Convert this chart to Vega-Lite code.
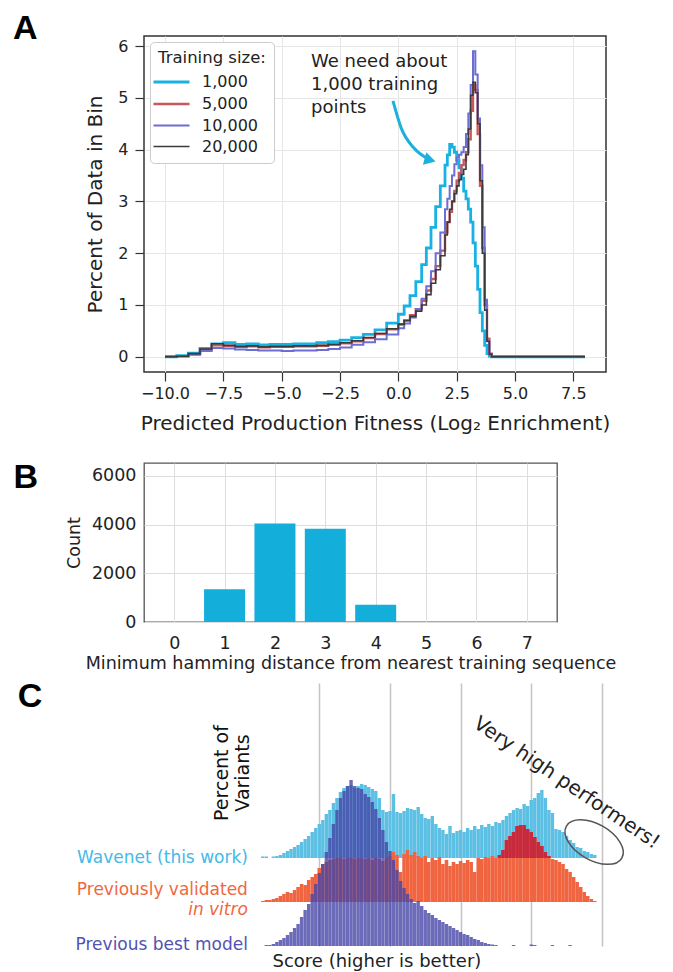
{
  "$schema": "https://vega.github.io/schema/vega-lite/v6.json",
  "padding": {"left": 12, "top": 11, "right": 4, "bottom": 2},
  "config": {
    "font": "DejaVu Sans",
    "axis": {"labelFont": "DejaVu Sans", "titleFont": "DejaVu Sans", "labelColor": "#222222", "titleColor": "#222222", "titleFontWeight": "normal"},
    "legend": {"labelFont": "DejaVu Sans", "titleFont": "DejaVu Sans"}
  },
  "datasets": {
    "curves": [
      {"x":-10,"pct":0,"size":"1,000"},{"x":-9.5,"pct":0.02,"size":"1,000"},{"x":-9,"pct":0.07,"size":"1,000"},{"x":-8.5,"pct":0.16,"size":"1,000"},{"x":-8,"pct":0.25,"size":"1,000"},{"x":-7.5,"pct":0.27,"size":"1,000"},{"x":-7,"pct":0.24,"size":"1,000"},{"x":-6.5,"pct":0.25,"size":"1,000"},{"x":-6,"pct":0.23,"size":"1,000"},{"x":-5.5,"pct":0.24,"size":"1,000"},{"x":-5,"pct":0.24,"size":"1,000"},{"x":-4.5,"pct":0.25,"size":"1,000"},{"x":-4,"pct":0.25,"size":"1,000"},{"x":-3.5,"pct":0.27,"size":"1,000"},{"x":-3,"pct":0.29,"size":"1,000"},{"x":-2.5,"pct":0.32,"size":"1,000"},{"x":-2,"pct":0.37,"size":"1,000"},{"x":-1.5,"pct":0.43,"size":"1,000"},{"x":-1,"pct":0.52,"size":"1,000"},{"x":-0.5,"pct":0.65,"size":"1,000"},{"x":0,"pct":0.82,"size":"1,000"},{"x":0.25,"pct":0.98,"size":"1,000"},{"x":0.5,"pct":1.18,"size":"1,000"},{"x":0.75,"pct":1.45,"size":"1,000"},{"x":1,"pct":1.78,"size":"1,000"},{"x":1.2,"pct":2.1,"size":"1,000"},{"x":1.4,"pct":2.5,"size":"1,000"},{"x":1.6,"pct":2.9,"size":"1,000"},{"x":1.8,"pct":3.3,"size":"1,000"},{"x":2,"pct":3.7,"size":"1,000"},{"x":2.1,"pct":3.9,"size":"1,000"},{"x":2.2,"pct":4.1,"size":"1,000"},{"x":2.3,"pct":4.05,"size":"1,000"},{"x":2.4,"pct":3.95,"size":"1,000"},{"x":2.5,"pct":3.8,"size":"1,000"},{"x":2.6,"pct":3.65,"size":"1,000"},{"x":2.7,"pct":3.45,"size":"1,000"},{"x":2.8,"pct":3.2,"size":"1,000"},{"x":2.9,"pct":3.05,"size":"1,000"},{"x":3,"pct":2.85,"size":"1,000"},{"x":3.1,"pct":2.6,"size":"1,000"},{"x":3.2,"pct":2.2,"size":"1,000"},{"x":3.3,"pct":1.75,"size":"1,000"},{"x":3.4,"pct":1.3,"size":"1,000"},{"x":3.5,"pct":0.85,"size":"1,000"},{"x":3.6,"pct":0.5,"size":"1,000"},{"x":3.7,"pct":0.22,"size":"1,000"},{"x":3.8,"pct":0.06,"size":"1,000"},{"x":3.9,"pct":0.01,"size":"1,000"},{"x":4,"pct":0,"size":"1,000"},{"x":8,"pct":0,"size":"1,000"},
      {"x":-10,"pct":0,"size":"5,000"},{"x":-9.5,"pct":0.01,"size":"5,000"},{"x":-9,"pct":0.05,"size":"5,000"},{"x":-8.5,"pct":0.14,"size":"5,000"},{"x":-8,"pct":0.22,"size":"5,000"},{"x":-7.5,"pct":0.21,"size":"5,000"},{"x":-7,"pct":0.19,"size":"5,000"},{"x":-6.5,"pct":0.2,"size":"5,000"},{"x":-6,"pct":0.18,"size":"5,000"},{"x":-5.5,"pct":0.19,"size":"5,000"},{"x":-5,"pct":0.19,"size":"5,000"},{"x":-4.5,"pct":0.2,"size":"5,000"},{"x":-4,"pct":0.2,"size":"5,000"},{"x":-3.5,"pct":0.21,"size":"5,000"},{"x":-3,"pct":0.23,"size":"5,000"},{"x":-2.5,"pct":0.26,"size":"5,000"},{"x":-2,"pct":0.3,"size":"5,000"},{"x":-1.5,"pct":0.36,"size":"5,000"},{"x":-1,"pct":0.44,"size":"5,000"},{"x":-0.5,"pct":0.53,"size":"5,000"},{"x":0,"pct":0.62,"size":"5,000"},{"x":0.25,"pct":0.7,"size":"5,000"},{"x":0.5,"pct":0.8,"size":"5,000"},{"x":0.75,"pct":0.92,"size":"5,000"},{"x":1,"pct":1.08,"size":"5,000"},{"x":1.2,"pct":1.28,"size":"5,000"},{"x":1.4,"pct":1.5,"size":"5,000"},{"x":1.6,"pct":1.75,"size":"5,000"},{"x":1.8,"pct":2.05,"size":"5,000"},{"x":2,"pct":2.4,"size":"5,000"},{"x":2.1,"pct":2.6,"size":"5,000"},{"x":2.2,"pct":2.8,"size":"5,000"},{"x":2.3,"pct":3.0,"size":"5,000"},{"x":2.4,"pct":3.2,"size":"5,000"},{"x":2.5,"pct":3.4,"size":"5,000"},{"x":2.6,"pct":3.55,"size":"5,000"},{"x":2.7,"pct":3.7,"size":"5,000"},{"x":2.8,"pct":3.8,"size":"5,000"},{"x":2.9,"pct":3.95,"size":"5,000"},{"x":3,"pct":4.2,"size":"5,000"},{"x":3.1,"pct":4.75,"size":"5,000"},{"x":3.2,"pct":5.25,"size":"5,000"},{"x":3.3,"pct":5.15,"size":"5,000"},{"x":3.4,"pct":4.3,"size":"5,000"},{"x":3.5,"pct":3.3,"size":"5,000"},{"x":3.6,"pct":2.1,"size":"5,000"},{"x":3.7,"pct":1.0,"size":"5,000"},{"x":3.8,"pct":0.35,"size":"5,000"},{"x":3.9,"pct":0.06,"size":"5,000"},{"x":4,"pct":0,"size":"5,000"},{"x":8,"pct":0,"size":"5,000"},
      {"x":-10,"pct":0,"size":"10,000"},{"x":-9.5,"pct":0.01,"size":"10,000"},{"x":-9,"pct":0.04,"size":"10,000"},{"x":-8.5,"pct":0.11,"size":"10,000"},{"x":-8,"pct":0.17,"size":"10,000"},{"x":-7.5,"pct":0.16,"size":"10,000"},{"x":-7,"pct":0.14,"size":"10,000"},{"x":-6.5,"pct":0.13,"size":"10,000"},{"x":-6,"pct":0.12,"size":"10,000"},{"x":-5.5,"pct":0.12,"size":"10,000"},{"x":-5,"pct":0.11,"size":"10,000"},{"x":-4.5,"pct":0.12,"size":"10,000"},{"x":-4,"pct":0.12,"size":"10,000"},{"x":-3.5,"pct":0.13,"size":"10,000"},{"x":-3,"pct":0.15,"size":"10,000"},{"x":-2.5,"pct":0.18,"size":"10,000"},{"x":-2,"pct":0.23,"size":"10,000"},{"x":-1.5,"pct":0.28,"size":"10,000"},{"x":-1,"pct":0.34,"size":"10,000"},{"x":-0.5,"pct":0.43,"size":"10,000"},{"x":0,"pct":0.55,"size":"10,000"},{"x":0.25,"pct":0.64,"size":"10,000"},{"x":0.5,"pct":0.76,"size":"10,000"},{"x":0.75,"pct":0.92,"size":"10,000"},{"x":1,"pct":1.12,"size":"10,000"},{"x":1.2,"pct":1.36,"size":"10,000"},{"x":1.4,"pct":1.65,"size":"10,000"},{"x":1.6,"pct":2.0,"size":"10,000"},{"x":1.8,"pct":2.4,"size":"10,000"},{"x":2,"pct":2.85,"size":"10,000"},{"x":2.1,"pct":3.05,"size":"10,000"},{"x":2.2,"pct":3.3,"size":"10,000"},{"x":2.3,"pct":3.5,"size":"10,000"},{"x":2.4,"pct":3.72,"size":"10,000"},{"x":2.5,"pct":3.85,"size":"10,000"},{"x":2.6,"pct":3.9,"size":"10,000"},{"x":2.7,"pct":3.95,"size":"10,000"},{"x":2.8,"pct":4.05,"size":"10,000"},{"x":2.9,"pct":4.3,"size":"10,000"},{"x":3,"pct":4.7,"size":"10,000"},{"x":3.1,"pct":5.25,"size":"10,000"},{"x":3.2,"pct":5.9,"size":"10,000"},{"x":3.3,"pct":5.45,"size":"10,000"},{"x":3.4,"pct":4.6,"size":"10,000"},{"x":3.5,"pct":3.7,"size":"10,000"},{"x":3.6,"pct":2.5,"size":"10,000"},{"x":3.7,"pct":1.1,"size":"10,000"},{"x":3.8,"pct":0.3,"size":"10,000"},{"x":3.9,"pct":0.05,"size":"10,000"},{"x":4,"pct":0,"size":"10,000"},{"x":8,"pct":0,"size":"10,000"},
      {"x":-10,"pct":0,"size":"20,000"},{"x":-9.5,"pct":0.01,"size":"20,000"},{"x":-9,"pct":0.06,"size":"20,000"},{"x":-8.5,"pct":0.15,"size":"20,000"},{"x":-8,"pct":0.25,"size":"20,000"},{"x":-7.5,"pct":0.22,"size":"20,000"},{"x":-7,"pct":0.2,"size":"20,000"},{"x":-6.5,"pct":0.21,"size":"20,000"},{"x":-6,"pct":0.19,"size":"20,000"},{"x":-5.5,"pct":0.2,"size":"20,000"},{"x":-5,"pct":0.2,"size":"20,000"},{"x":-4.5,"pct":0.21,"size":"20,000"},{"x":-4,"pct":0.21,"size":"20,000"},{"x":-3.5,"pct":0.22,"size":"20,000"},{"x":-3,"pct":0.24,"size":"20,000"},{"x":-2.5,"pct":0.27,"size":"20,000"},{"x":-2,"pct":0.31,"size":"20,000"},{"x":-1.5,"pct":0.37,"size":"20,000"},{"x":-1,"pct":0.45,"size":"20,000"},{"x":-0.5,"pct":0.54,"size":"20,000"},{"x":0,"pct":0.63,"size":"20,000"},{"x":0.25,"pct":0.7,"size":"20,000"},{"x":0.5,"pct":0.78,"size":"20,000"},{"x":0.75,"pct":0.88,"size":"20,000"},{"x":1,"pct":1.0,"size":"20,000"},{"x":1.2,"pct":1.2,"size":"20,000"},{"x":1.4,"pct":1.42,"size":"20,000"},{"x":1.6,"pct":1.68,"size":"20,000"},{"x":1.8,"pct":1.95,"size":"20,000"},{"x":2,"pct":2.35,"size":"20,000"},{"x":2.1,"pct":2.6,"size":"20,000"},{"x":2.2,"pct":2.85,"size":"20,000"},{"x":2.3,"pct":3.0,"size":"20,000"},{"x":2.4,"pct":3.15,"size":"20,000"},{"x":2.5,"pct":3.3,"size":"20,000"},{"x":2.6,"pct":3.42,"size":"20,000"},{"x":2.7,"pct":3.52,"size":"20,000"},{"x":2.8,"pct":3.62,"size":"20,000"},{"x":2.9,"pct":3.9,"size":"20,000"},{"x":3,"pct":4.4,"size":"20,000"},{"x":3.1,"pct":5.05,"size":"20,000"},{"x":3.2,"pct":5.3,"size":"20,000"},{"x":3.3,"pct":5.1,"size":"20,000"},{"x":3.4,"pct":4.5,"size":"20,000"},{"x":3.5,"pct":3.4,"size":"20,000"},{"x":3.6,"pct":2.0,"size":"20,000"},{"x":3.7,"pct":0.9,"size":"20,000"},{"x":3.8,"pct":0.3,"size":"20,000"},{"x":3.9,"pct":0.05,"size":"20,000"},{"x":4,"pct":0,"size":"20,000"},{"x":8,"pct":0,"size":"20,000"}
    ],
    "annA": [{"x": -3.74, "pct": 5.87, "label": "We need about\n1,000 training\npoints"}],
    "arrowA": [{"x": -0.23, "pct": 4.94}, {"x": 0.12, "pct": 4.42}, {"x": 0.67, "pct": 4.03}, {"x": 1.27, "pct": 3.82}],
    "arrowHeadA": [{"x": 1.36, "pct": 3.8}],
    "letterA": [{"x": -16.515, "pct": 6.33, "label": "A"}],
    "hamming": [
      {"d": 0, "count": 0}, {"d": 1, "count": 1350}, {"d": 2, "count": 4050}, {"d": 3, "count": 3830},
      {"d": 4, "count": 710}, {"d": 5, "count": 0}, {"d": 6, "count": 0}, {"d": 7, "count": 0}
    ],
    "letterB": [{"d": -3.19, "count": 5914, "label": "B"}],
    "wavenet": [
      {"s":-0.8,"pct":0.15},{"s":-0.75,"pct":0.15},{"s":-0.65,"pct":0.15},{"s":-0.6,"pct":0.2},{"s":-0.55,"pct":0.3},{"s":-0.5,"pct":0.5},{"s":-0.45,"pct":0.7},{"s":-0.4,"pct":0.9},{"s":-0.35,"pct":1.1},{"s":-0.3,"pct":1.3},{"s":-0.25,"pct":1.6},{"s":-0.2,"pct":1.9},{"s":-0.15,"pct":2.2},{"s":-0.1,"pct":2.6},{"s":-0.05,"pct":3.0},
      {"s":0,"pct":3.4},{"s":0.05,"pct":3.8},{"s":0.1,"pct":4.4},{"s":0.15,"pct":4.8},{"s":0.2,"pct":5.5},{"s":0.25,"pct":6.0},{"s":0.3,"pct":6.6},{"s":0.35,"pct":7.0},{"s":0.4,"pct":7.2},{"s":0.45,"pct":7.3},{"s":0.5,"pct":7.0},{"s":0.55,"pct":7.2},{"s":0.6,"pct":7.4},{"s":0.65,"pct":7.3},{"s":0.7,"pct":7.1},{"s":0.75,"pct":6.9},{"s":0.8,"pct":6.7},{"s":0.85,"pct":6.0},{"s":0.9,"pct":4.8},{"s":0.95,"pct":4.6},
      {"s":1,"pct":4.7},{"s":1.05,"pct":6.4},{"s":1.1,"pct":4.6},{"s":1.15,"pct":4.5},{"s":1.2,"pct":4.7},{"s":1.25,"pct":5.0},{"s":1.3,"pct":4.9},{"s":1.35,"pct":4.8},{"s":1.4,"pct":5.1},{"s":1.45,"pct":4.4},{"s":1.5,"pct":4.0},{"s":1.55,"pct":3.9},{"s":1.6,"pct":4.2},{"s":1.65,"pct":3.4},{"s":1.7,"pct":3.0},{"s":1.75,"pct":2.8},{"s":1.8,"pct":2.4},{"s":1.85,"pct":3.2},{"s":1.9,"pct":2.5},{"s":1.95,"pct":2.7},
      {"s":2,"pct":2.8},{"s":2.05,"pct":2.6},{"s":2.1,"pct":3.0},{"s":2.15,"pct":2.8},{"s":2.2,"pct":3.2},{"s":2.25,"pct":2.9},{"s":2.3,"pct":3.3},{"s":2.35,"pct":3.1},{"s":2.4,"pct":3.4},{"s":2.45,"pct":3.2},{"s":2.5,"pct":3.6},{"s":2.55,"pct":3.5},{"s":2.6,"pct":3.8},{"s":2.65,"pct":4.2},{"s":2.7,"pct":4.5},{"s":2.75,"pct":4.8},{"s":2.8,"pct":5.0},{"s":2.85,"pct":4.9},{"s":2.9,"pct":5.4},{"s":2.95,"pct":5.2},
      {"s":3,"pct":5.8},{"s":3.05,"pct":6.0},{"s":3.1,"pct":6.5},{"s":3.15,"pct":6.8},{"s":3.2,"pct":6.0},{"s":3.25,"pct":4.8},{"s":3.3,"pct":4.5},{"s":3.35,"pct":2.9},{"s":3.4,"pct":2.8},{"s":3.45,"pct":2.6},{"s":3.5,"pct":2.2},{"s":3.55,"pct":1.8},{"s":3.6,"pct":1.5},{"s":3.65,"pct":1.1},{"s":3.7,"pct":1.0},{"s":3.75,"pct":0.7},{"s":3.8,"pct":0.6},{"s":3.85,"pct":0.4},{"s":3.9,"pct":0.3}
    ],
    "validated": [
      {"s":-0.8,"pct":0.1},{"s":-0.75,"pct":0.2},{"s":-0.7,"pct":0.2},{"s":-0.65,"pct":0.3},{"s":-0.6,"pct":0.4},{"s":-0.55,"pct":0.6},{"s":-0.5,"pct":0.8},{"s":-0.45,"pct":1.0},{"s":-0.4,"pct":0.9},{"s":-0.35,"pct":1.2},{"s":-0.3,"pct":1.5},{"s":-0.25,"pct":1.8},{"s":-0.2,"pct":1.7},{"s":-0.15,"pct":2.2},{"s":-0.1,"pct":2.5},{"s":-0.05,"pct":2.8},
      {"s":0,"pct":3.4},{"s":0.05,"pct":3.8},{"s":0.1,"pct":4.0},{"s":0.15,"pct":4.2},{"s":0.2,"pct":4.3},{"s":0.25,"pct":4.4},{"s":0.3,"pct":4.4},{"s":0.35,"pct":4.3},{"s":0.4,"pct":4.4},{"s":0.45,"pct":4.4},{"s":0.5,"pct":4.3},{"s":0.55,"pct":4.4},{"s":0.6,"pct":4.4},{"s":0.65,"pct":4.3},{"s":0.7,"pct":4.4},{"s":0.75,"pct":4.2},{"s":0.8,"pct":4.4},{"s":0.85,"pct":4.3},{"s":0.9,"pct":4.1},{"s":0.95,"pct":4.4},
      {"s":1,"pct":4.6},{"s":1.05,"pct":5.0},{"s":1.1,"pct":4.7},{"s":1.15,"pct":3.0},{"s":1.2,"pct":4.8},{"s":1.25,"pct":5.2},{"s":1.3,"pct":4.7},{"s":1.35,"pct":5.0},{"s":1.4,"pct":4.6},{"s":1.45,"pct":4.4},{"s":1.5,"pct":4.6},{"s":1.55,"pct":4.0},{"s":1.6,"pct":4.4},{"s":1.65,"pct":4.2},{"s":1.7,"pct":4.5},{"s":1.75,"pct":3.8},{"s":1.8,"pct":4.2},{"s":1.85,"pct":3.6},{"s":1.9,"pct":4.0},{"s":1.95,"pct":3.8},
      {"s":2,"pct":4.1},{"s":2.05,"pct":3.9},{"s":2.1,"pct":4.2},{"s":2.15,"pct":4.0},{"s":2.2,"pct":3.0},{"s":2.25,"pct":4.4},{"s":2.3,"pct":4.3},{"s":2.35,"pct":4.5},{"s":2.4,"pct":4.4},{"s":2.45,"pct":4.6},{"s":2.5,"pct":4.4},{"s":2.55,"pct":4.7},{"s":2.6,"pct":5.2},{"s":2.65,"pct":6.2},{"s":2.7,"pct":6.6},{"s":2.75,"pct":7.0},{"s":2.8,"pct":7.6},{"s":2.85,"pct":7.7},{"s":2.9,"pct":7.7},{"s":2.95,"pct":7.3},
      {"s":3,"pct":7.0},{"s":3.05,"pct":6.5},{"s":3.1,"pct":6.0},{"s":3.15,"pct":5.6},{"s":3.2,"pct":5.0},{"s":3.25,"pct":4.6},{"s":3.3,"pct":4.3},{"s":3.35,"pct":4.2},{"s":3.4,"pct":4.0},{"s":3.45,"pct":3.8},{"s":3.5,"pct":3.3},{"s":3.55,"pct":3.0},{"s":3.6,"pct":2.5},{"s":3.65,"pct":2.0},{"s":3.7,"pct":1.5},{"s":3.75,"pct":1.0},{"s":3.8,"pct":0.6},{"s":3.85,"pct":0.3},{"s":3.9,"pct":0.1}
    ],
    "best": [
      {"s":-0.75,"pct":0.1},{"s":-0.7,"pct":0.1},{"s":-0.65,"pct":0.2},{"s":-0.6,"pct":0.4},{"s":-0.55,"pct":0.6},{"s":-0.5,"pct":0.8},{"s":-0.45,"pct":1.1},{"s":-0.4,"pct":1.4},{"s":-0.35,"pct":1.8},{"s":-0.3,"pct":2.2},{"s":-0.25,"pct":2.9},{"s":-0.2,"pct":3.6},{"s":-0.15,"pct":4.2},{"s":-0.1,"pct":5.2},{"s":-0.05,"pct":6.2},
      {"s":0,"pct":7.3},{"s":0.05,"pct":8.2},{"s":0.1,"pct":9.4},{"s":0.15,"pct":10.8},{"s":0.2,"pct":12.2},{"s":0.25,"pct":13.6},{"s":0.3,"pct":14.8},{"s":0.35,"pct":15.5},{"s":0.4,"pct":16.0},{"s":0.45,"pct":16.6},{"s":0.5,"pct":16.0},{"s":0.55,"pct":15.8},{"s":0.6,"pct":15.7},{"s":0.65,"pct":15.2},{"s":0.7,"pct":14.9},{"s":0.75,"pct":14.4},{"s":0.8,"pct":13.7},{"s":0.85,"pct":12.8},{"s":0.9,"pct":11.6},{"s":0.95,"pct":10.4},
      {"s":1,"pct":9.5},{"s":1.05,"pct":8.6},{"s":1.1,"pct":7.6},{"s":1.15,"pct":6.5},{"s":1.2,"pct":5.8},{"s":1.25,"pct":5.2},{"s":1.3,"pct":4.7},{"s":1.35,"pct":4.3},{"s":1.4,"pct":4.5},{"s":1.45,"pct":4.0},{"s":1.5,"pct":3.6},{"s":1.55,"pct":3.3},{"s":1.6,"pct":3.1},{"s":1.65,"pct":2.8},{"s":1.7,"pct":2.6},{"s":1.75,"pct":2.4},{"s":1.8,"pct":2.2},{"s":1.85,"pct":2.0},{"s":1.9,"pct":1.8},{"s":1.95,"pct":1.6},
      {"s":2,"pct":1.4},{"s":2.05,"pct":1.2},{"s":2.1,"pct":1.1},{"s":2.15,"pct":0.9},{"s":2.2,"pct":0.7},{"s":2.25,"pct":0.6},{"s":2.3,"pct":0.4},{"s":2.35,"pct":0.3},{"s":2.4,"pct":0.2},{"s":2.45,"pct":0.15},{"s":2.5,"pct":0.1},{"s":2.75,"pct":0.1},{"s":3,"pct":0.15},{"s":3.05,"pct":0.1},{"s":3.3,"pct":0.1},{"s":3.55,"pct":0.1}
    ],
    "labelWavenet": [{"s": -1.01, "pct": 8.8, "label": "Wavenet (this work)"}],
    "labelValidated": [{"s": -1.01, "pct": 5.6, "label": "Previously validated"}],
    "labelVitro": [{"s": -1.01, "pct": 3.6, "label": "in vitro"}],
    "labelBest": [{"s": -1.01, "pct": 0.1, "label": "Previous best model"}],
    "ytitleC": [{"s": -1.37, "pct": 17.3, "label": "Percent of\nVariants"}],
    "noteC": [{"s": 3.5, "pct": 16.3, "label": "Very high performers!"}],
    "ellipseC": [{"s": 3.89, "pct": 10.4}],
    "letterC": [{"s": -4.266, "pct": 24.9, "label": "C"}]
  },
  "columns": 1,
  "align": "none",
  "spacing": 26,
  "concat": [
    {
      "width": 462,
      "height": 336,
      "view": {"stroke": "#333333", "strokeWidth": 1.5},
      "layer": [
        {
          "data": {"name": "curves"},
          "mark": {"type": "line", "interpolate": "step-after"},
          "encoding": {
            "x": {"field": "x", "type": "quantitative", "scale": {"domain": [-10.9, 8.9], "nice": false, "zero": false},
              "axis": {"values": [-10, -7.5, -5, -2.5, 0, 2.5, 5, 7.5], "format": ".1f", "title": "Predicted Production Fitness (Log₂ Enrichment)", "labelFontSize": 16, "titleFontSize": 20, "tickSize": 9, "tickColor": "#333333", "tickWidth": 1.2, "domain": false, "gridColor": "#e6e6e6", "labelPadding": 4, "titlePadding": 12}},
            "y": {"field": "pct", "type": "quantitative", "scale": {"domain": [-0.295, 6.195], "nice": false, "zero": false},
              "axis": {"values": [0, 1, 2, 3, 4, 5, 6], "format": "d", "title": "Percent of Data in Bin", "labelFontSize": 16, "titleFontSize": 20, "tickSize": 9, "tickColor": "#333333", "tickWidth": 1.2, "domain": false, "gridColor": "#e6e6e6", "labelPadding": 7, "titlePadding": 12}},
            "color": {"field": "size", "type": "nominal",
              "scale": {"domain": ["1,000", "5,000", "10,000", "20,000"], "range": ["#18b2e2", "#c8585c", "#6d6dd6", "#3a3a3a"]},
              "legend": {"title": "Training size:", "orient": "top-left", "offset": 6, "padding": 8, "fillColor": "white", "strokeColor": "#cccccc", "cornerRadius": 4, "titleFontSize": 16.5, "titleFontWeight": "normal", "labelFontSize": 16, "symbolType": "M-1.5,0L1.5,0", "symbolSize": 576, "symbolStrokeWidth": 2.5, "rowPadding": 0, "titlePadding": 2, "labelOffset": 17, "labelColor": "#222222", "titleColor": "#222222"}},
            "strokeWidth": {"field": "size", "type": "nominal",
              "scale": {"domain": ["1,000", "5,000", "10,000", "20,000"], "range": [2.8, 1.6, 1.6, 1.6]},
              "legend": null}
          }
        },
        {
          "data": {"name": "annA"},
          "mark": {"type": "text", "align": "left", "baseline": "top", "fontSize": 18, "lineHeight": 23, "lineBreak": "\n", "color": "#222222"},
          "encoding": {"x": {"field": "x", "type": "quantitative"}, "y": {"field": "pct", "type": "quantitative"}, "text": {"field": "label"}}
        },
        {
          "data": {"name": "arrowA"},
          "mark": {"type": "line", "interpolate": "monotone", "color": "#1cb0dc", "strokeWidth": 3},
          "encoding": {"x": {"field": "x", "type": "quantitative"}, "y": {"field": "pct", "type": "quantitative"}}
        },
        {
          "data": {"name": "arrowHeadA"},
          "mark": {"type": "point", "shape": "triangle-right", "filled": true, "color": "#1cb0dc", "opacity": 1, "size": 170, "angle": 15},
          "encoding": {"x": {"field": "x", "type": "quantitative"}, "y": {"field": "pct", "type": "quantitative"}}
        },
        {
          "data": {"name": "letterA"},
          "mark": {"type": "text", "align": "left", "baseline": "middle", "font": "Liberation Sans", "fontWeight": "bold", "fontSize": 34, "color": "#000000"},
          "encoding": {"x": {"field": "x", "type": "quantitative"}, "y": {"field": "pct", "type": "quantitative"}, "text": {"field": "label"}}
        }
      ]
    },
    {
      "columns": 1,
      "align": "none",
      "spacing": 7,
      "concat": [
        {
          "width": 413,
          "height": 159,
          "view": {"stroke": "#555555", "strokeWidth": 1.3},
          "layer": [
            {
              "data": {"name": "hamming"},
              "mark": {"type": "bar", "width": 41, "color": "#14aedb"},
              "encoding": {
                "x": {"field": "d", "type": "quantitative", "scale": {"domain": [-0.5, 7.5], "nice": false, "zero": false},
                  "axis": {"values": [0, 1, 2, 3, 4, 5, 6, 7], "format": "d", "title": "Minimum hamming distance from nearest training sequence", "ticks": false, "labelPadding": 12, "labelFontSize": 17.5, "titleFontSize": 17.5, "domain": false, "gridColor": "#dddddd", "titlePadding": 3}},
                "y": {"field": "count", "type": "quantitative", "scale": {"domain": [0, 6530], "nice": false},
                  "axis": {"values": [0, 2000, 4000, 6000], "format": "d", "title": "Count", "ticks": false, "labelPadding": 8, "labelFontSize": 17.5, "titleFontSize": 17.5, "domain": false, "gridColor": "#dddddd", "titlePadding": 8}}
              }
            },
            {
              "data": {"name": "letterB"},
              "mark": {"type": "text", "align": "left", "baseline": "middle", "font": "Liberation Sans", "fontWeight": "bold", "fontSize": 34, "color": "#000000"},
              "encoding": {"x": {"field": "d", "type": "quantitative"}, "y": {"field": "count", "type": "quantitative"}, "text": {"field": "label"}}
            }
          ]
        },
        {
          "width": 465,
          "height": 263,
          "view": {"stroke": null},
          "resolve": {"scale": {"y": "independent"}},
          "encoding": {
            "x": {"field": "s", "type": "quantitative", "scale": {"domain": [-2.41, 4.03], "nice": false, "zero": false},
              "axis": {"values": [0, 1, 2, 3, 4], "grid": true, "gridColor": "#c4c4c4", "gridWidth": 1.5, "labels": false, "ticks": false, "domain": false, "title": "Score (higher is better)", "titleFontSize": 18, "titleAnchor": "start", "titleAlign": "left", "titleX": 128, "titlePadding": 6}}
          },
          "layer": [
            {
              "data": {"name": "wavenet"},
              "mark": {"type": "bar", "orient": "vertical", "width": 3.4, "color": "#5cbfe4"},
              "encoding": {
                "y": {"field": "pct", "type": "quantitative", "scale": {"domain": [-8.8, 17.5], "nice": false, "zero": false}, "axis": null}
              }
            },
            {
              "data": {"name": "validated"},
              "mark": {"type": "bar", "orient": "vertical", "width": 3.55, "color": "#f06440"},
              "encoding": {
                "y": {"field": "pct", "type": "quantitative", "scale": {"domain": [-4.4, 21.9], "nice": false, "zero": false}, "axis": null}
              }
            },
            {
              "data": {"name": "validated"},
              "transform": [{"filter": "datum.s >= 2.55 && datum.pct > 4.4"}],
              "mark": {"type": "bar", "orient": "vertical", "width": 3.55, "color": "#c72a3c"},
              "encoding": {
                "y": {"field": "pct", "type": "quantitative", "scale": {"domain": [-4.4, 21.9], "nice": false, "zero": false}, "axis": null},
                "y2": {"datum": 4.4}
              }
            },
            {
              "data": {"name": "best"},
              "mark": {"type": "bar", "orient": "vertical", "width": 3.4, "color": "#4646a8", "opacity": 0.8},
              "encoding": {
                "y": {"field": "pct", "type": "quantitative", "scale": {"domain": [0, 26.3], "nice": false, "zero": false}, "axis": null}
              }
            },
            {
              "data": {"name": "labelWavenet"},
              "mark": {"type": "text", "align": "right", "baseline": "middle", "fontSize": 17, "color": "#45b9e6"},
              "encoding": {
                "y": {"field": "pct", "type": "quantitative", "scale": {"domain": [0, 26.3], "nice": false, "zero": false}, "axis": null},
                "text": {"field": "label"}
              }
            },
            {
              "data": {"name": "labelValidated"},
              "mark": {"type": "text", "align": "right", "baseline": "middle", "fontSize": 17, "color": "#f0673f"},
              "encoding": {
                "y": {"field": "pct", "type": "quantitative", "scale": {"domain": [0, 26.3], "nice": false, "zero": false}, "axis": null},
                "text": {"field": "label"}
              }
            },
            {
              "data": {"name": "labelVitro"},
              "mark": {"type": "text", "align": "right", "baseline": "middle", "fontSize": 17, "fontStyle": "italic", "color": "#f0673f"},
              "encoding": {
                "y": {"field": "pct", "type": "quantitative", "scale": {"domain": [0, 26.3], "nice": false, "zero": false}, "axis": null},
                "text": {"field": "label"}
              }
            },
            {
              "data": {"name": "labelBest"},
              "mark": {"type": "text", "align": "right", "baseline": "middle", "fontSize": 17, "color": "#5252b2"},
              "encoding": {
                "y": {"field": "pct", "type": "quantitative", "scale": {"domain": [0, 26.3], "nice": false, "zero": false}, "axis": null},
                "text": {"field": "label"}
              }
            },
            {
              "data": {"name": "ytitleC"},
              "mark": {"type": "text", "align": "center", "baseline": "middle", "fontSize": 19, "angle": 270, "lineBreak": "\n", "lineHeight": 21, "color": "#111111"},
              "encoding": {
                "y": {"field": "pct", "type": "quantitative", "scale": {"domain": [0, 26.3], "nice": false, "zero": false}, "axis": null},
                "text": {"field": "label"}
              }
            },
            {
              "data": {"name": "noteC"},
              "mark": {"type": "text", "align": "center", "baseline": "middle", "fontSize": 20, "angle": 34, "color": "#222222"},
              "encoding": {
                "y": {"field": "pct", "type": "quantitative", "scale": {"domain": [0, 26.3], "nice": false, "zero": false}, "axis": null},
                "text": {"field": "label"}
              }
            },
            {
              "data": {"name": "ellipseC"},
              "mark": {"type": "point", "shape": "M-1,0C-1,-0.3107,-0.5523,-0.5625,0,-0.5625C0.5523,-0.5625,1,-0.3107,1,0C1,0.3107,0.5523,0.5625,0,0.5625C-0.5523,0.5625,-1,0.3107,-1,0Z", "size": 4096, "angle": 30, "filled": false, "stroke": "#555555", "strokeWidth": 1.5, "opacity": 1},
              "encoding": {
                "y": {"field": "pct", "type": "quantitative", "scale": {"domain": [0, 26.3], "nice": false, "zero": false}, "axis": null}
              }
            },
            {
              "data": {"name": "letterC"},
              "mark": {"type": "text", "align": "left", "baseline": "middle", "font": "Liberation Sans", "fontWeight": "bold", "fontSize": 34, "color": "#000000"},
              "encoding": {
                "y": {"field": "pct", "type": "quantitative", "scale": {"domain": [0, 26.3], "nice": false, "zero": false}, "axis": null},
                "text": {"field": "label"}
              }
            }
          ]
        }
      ]
    }
  ]
}
